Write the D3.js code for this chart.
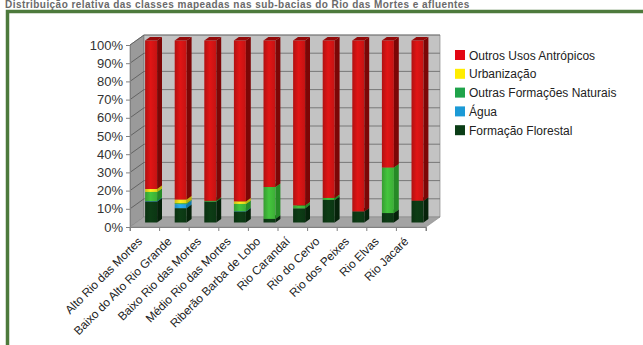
<!DOCTYPE html>
<html>
<head>
<meta charset="utf-8">
<script src="https://cdn.jsdelivr.net/npm/d3@7"></script>
<style>
  html, body { margin: 0; padding: 0; background: #fff; }
  svg { display: block; font-family: "Liberation Sans", Arial, sans-serif; }
</style>
</head>
<body>
<svg id="chart" width="643" height="345"></svg>
<script>
// Sub-basins and land-cover shares (%), stacked bottom to top
const basins = ["Alto Rio das Mortes", "Baixo do Alto Rio Grande", "Baixo Rio das Mortes",
  "Médio Rio das Mortes", "Riberão Barba de Lobo", "Rio Carandaí", "Rio do Cervo",
  "Rio dos Peixes", "Rio Elvas", "Rio Jacaré"];
const formacaoFlorestal = [11.6, 7.9, 11.5, 6.1, 2.0, 7.8, 12.4, 6.1, 5.2, 12.0];
const agua              = [0.2, 2.2, 0.0, 0.1, 0.0, 0.0, 0.0, 0.0, 0.0, 0.0];
const outrasFormacoes   = [5.0, 0.5, 0.4, 4.0, 17.5, 1.6, 1.1, 0.0, 25.0, 0.0];
const urbanizacao       = [1.6, 2.0, 0.0, 1.4, 0.0, 0.0, 0.0, 0.0, 0.0, 0.0];
const outrosUsos        = [81.6, 87.4, 88.1, 88.4, 80.5, 90.6, 86.5, 93.9, 69.8, 88.0];
const yTicks = [0, 10, 20, 30, 40, 50, 60, 70, 80, 90, 100];
const legendLabels = ["Outros Usos Antrópicos", "Urbanização", "Outras Formações Naturais", "Água", "Formação Florestal"];

const series = [
  { key: "Formação Florestal", values: formacaoFlorestal, front: "#0c3a14", side: "#06220a", top: "#0a2e10", legend: "#0b3d16" },
  { key: "Água", values: agua, front: "#27a6e6", side: "#147aa8", top: "#1c8cc0", legend: "#1c9ad6" },
  { key: "Outras Formações Naturais", values: outrasFormacoes, front: "#40bb3a", side: "#268a26", top: "#31a02f", legend: "#1fa34a" },
  { key: "Urbanização", values: urbanizacao, front: "#f2e21c", side: "#c2b20a", top: "#dccc10", legend: "#ffed00" },
  { key: "Outros Usos Antrópicos", values: outrosUsos, front: "#d41414", side: "#7c0606", top: "#950a0a", legend: "#e30613" }
];

const svg = d3.select("#chart");

// Section heading above the frame
svg.append("text").attr("x", 5).attr("y", 8)
  .attr("font-size", 10).attr("font-weight", "bold").attr("fill", "#6a6a6a").attr("letter-spacing", 0.45)
  .text("Distribuição relativa das classes mapeadas nas sub-bacias do Rio das Mortes e afluentes");

// Green frame
svg.append("rect").attr("x", 7.5).attr("y", 11.5).attr("width", 700).attr("height", 400)
  .attr("fill", "#fff").attr("stroke", "#4d7a3c").attr("stroke-width", 3.5);

// Scales on the front plane
const x = d3.scaleBand().domain(basins).range([130, 426]).paddingInner(0).paddingOuter(0);
const y = d3.scaleLinear().domain([0, 100]).range([227, 45]);
const D = { x: 14, y: -10 };   // full depth of the box

const g = svg.append("g");
const pt = (px, py) => px + "," + py;
const poly = (pts, fill, stroke) => g.append("polygon").attr("points", pts.join(" "))
  .attr("fill", fill).attr("stroke", stroke || "none").attr("stroke-width", 0.6);

// Left side wall
poly([pt(x.range()[0], y(0)), pt(x.range()[0], y(100)), pt(x.range()[0] + D.x, y(100) + D.y), pt(x.range()[0] + D.x, y(0) + D.y)], "#9a9a9a", "#6e6e6e");
// Back wall
poly([pt(x.range()[0] + D.x, y(100) + D.y), pt(x.range()[1] + D.x, y(100) + D.y), pt(x.range()[1] + D.x, y(0) + D.y), pt(x.range()[0] + D.x, y(0) + D.y)], "#c3c3c3", "#7a7a7a");
// Floor
poly([pt(x.range()[0], y(0)), pt(x.range()[1], y(0)), pt(x.range()[1] + D.x, y(0) + D.y), pt(x.range()[0] + D.x, y(0) + D.y)], "#a3a3a3", "#8a8a8a");

// Gridlines on the walls
yTicks.filter(t => t > 0).forEach(t => {
  g.append("line").attr("x1", x.range()[0] + D.x).attr("x2", x.range()[1] + D.x)
    .attr("y1", y(t) + D.y).attr("y2", y(t) + D.y).attr("stroke", "#6f6f6f").attr("stroke-width", 0.9);
  g.append("line").attr("x1", x.range()[0]).attr("x2", x.range()[0] + D.x)
    .attr("y1", y(t)).attr("y2", y(t) + D.y).attr("stroke", "#5c5c5c").attr("stroke-width", 0.9);
});

// Value axis
const axisG = svg.append("g").attr("transform", "translate(130,0)")
  .call(d3.axisLeft(y).tickValues(yTicks).tickSize(4).tickFormat(d => d + "%"));
axisG.select(".domain").attr("stroke", "#808080");
axisG.selectAll(".tick line").attr("stroke", "#808080");
axisG.selectAll(".tick text").attr("font-size", 13).attr("fill", "#333").attr("x", -7)
  .attr("font-family", "'Liberation Sans', Arial, sans-serif");

// Category axis
const xAxisG = svg.append("g").attr("transform", "translate(0," + y(0) + ")")
  .call(d3.axisBottom(x).tickSize(4).tickFormat("").tickSizeOuter(4));
xAxisG.select(".domain").attr("stroke", "#808080");
xAxisG.selectAll(".tick line").attr("stroke", "#808080").attr("transform", "translate(" + (-x.bandwidth() / 2) + ",0)");
svg.append("line").attr("x1", x.range()[1]).attr("x2", x.range()[1]).attr("y1", y(0)).attr("y2", y(0) + 4).attr("stroke", "#808080");

basins.forEach(b => {
  svg.append("text")
    .attr("transform", "translate(" + (x(b) + x.bandwidth() / 2 - 2) + "," + (y(0) + 15) + ") rotate(-45)")
    .attr("text-anchor", "end").attr("font-size", 11.8).attr("fill", "#222")
    .text(b);
});

// 3D stacked columns
const stack = d3.stack().keys(d3.range(series.length)).value((d, k) => series[k].values[d]);
const layers = stack(d3.range(basins.length));
const barW = 12;
const f0 = 0.45, f1 = 0.8;      // depth slice occupied by the columns
const bx = { x: D.x * f0, y: D.y * f0 };
const bd = { x: D.x * (f1 - f0), y: D.y * (f1 - f0) };

const defs = svg.append("defs");
series.forEach((s, k) => {
  const grad = defs.append("linearGradient").attr("id", "gf" + k).attr("x1", 0).attr("x2", 1).attr("y1", 0).attr("y2", 0);
  const c = d3.color(s.front);
  grad.append("stop").attr("offset", 0).attr("stop-color", c.darker(0.5));
  grad.append("stop").attr("offset", 0.45).attr("stop-color", c.brighter(0.15));
  grad.append("stop").attr("offset", 1).attr("stop-color", c.darker(0.2));
});

const bars = svg.append("g");
basins.forEach((b, i) => {
  const left = x(b) + (x.bandwidth() - barW) / 2 + bx.x;
  layers.forEach((layer, k) => {
    const [v0, v1] = layer[i];
    if (v1 - v0 <= 0) return;
    const s = series[k];
    const yb = y(v0) + bx.y, yt = y(v1) + bx.y;
    bars.append("rect").attr("x", left).attr("y", yt).attr("width", barW).attr("height", yb - yt)
      .attr("fill", "url(#gf" + k + ")");
    bars.append("polygon").attr("points", [pt(left + barW, yb), pt(left + barW, yt), pt(left + barW + bd.x, yt + bd.y), pt(left + barW + bd.x, yb + bd.y)].join(" "))
      .attr("fill", s.side);
    bars.append("polygon").attr("points", [pt(left, yt), pt(left + barW, yt), pt(left + barW + bd.x, yt + bd.y), pt(left + bd.x, yt + bd.y)].join(" "))
      .attr("fill", s.top);
  });
});

// Legend
const legend = svg.append("g").attr("transform", "translate(455,50)");
legendLabels.forEach((lab, i) => {
  const s = series.find(d => d.key === lab);
  const row = legend.append("g").attr("transform", "translate(0," + (i * 18.8) + ")");
  row.append("rect").attr("width", 10).attr("height", 10).attr("fill", s.legend);
  row.append("text").attr("x", 14).attr("y", 9.5).attr("font-size", 12).attr("fill", "#222").text(lab);
});
</script>
</body>
</html>
